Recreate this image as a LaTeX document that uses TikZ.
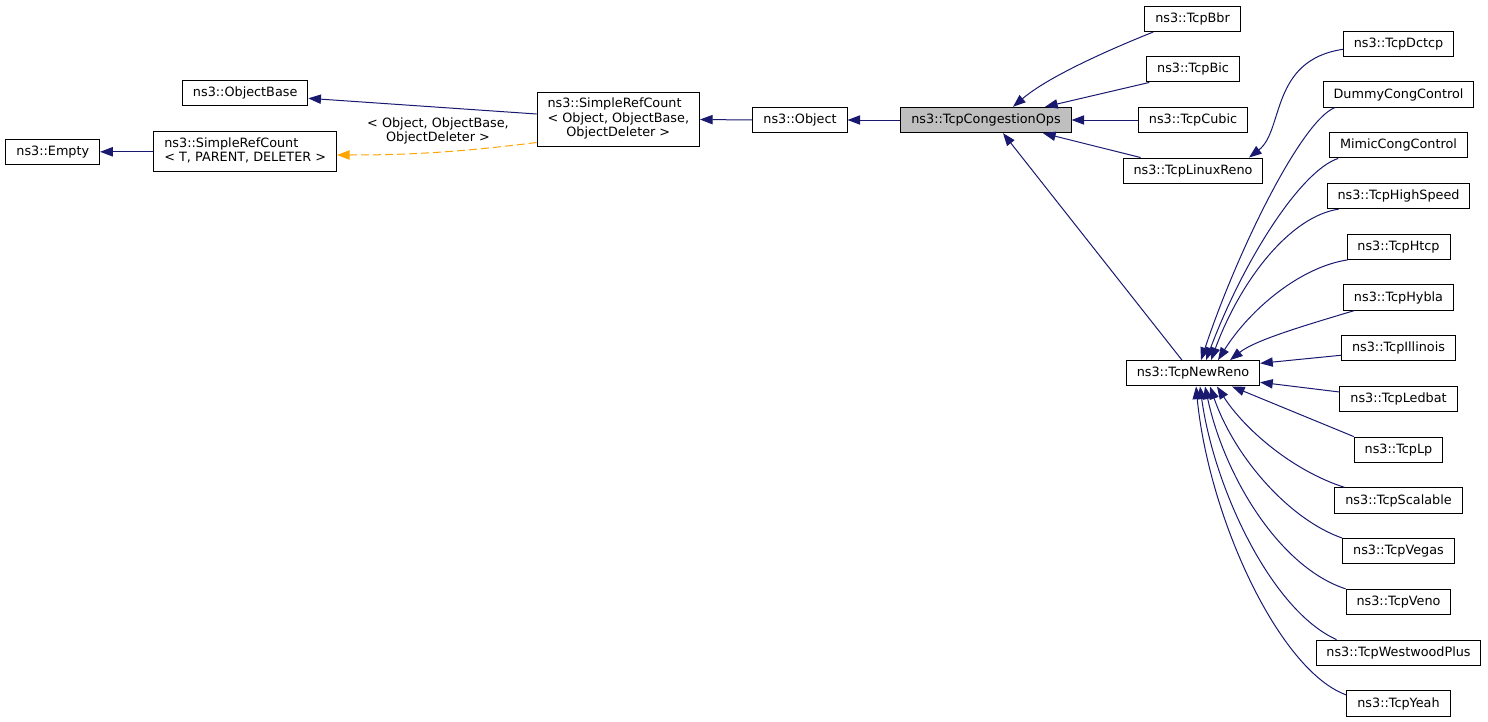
\documentclass[tikz,border=0pt]{standalone}
\usepackage{fontspec}
\setmainfont{DejaVu Sans}
\usetikzlibrary{arrows.meta,calc}
\definecolor{edgeblue}{RGB}{25,25,112}
\definecolor{edgeorange}{RGB}{255,165,0}
\definecolor{boxgray}{RGB}{191,191,191}

\begin{document}
\begin{tikzpicture}[x=0.75pt,y=-0.75pt,
  cls/.style={draw=black,line width=0.75pt,fill=white,inner xsep=7.8pt,inner ysep=4.1pt,
    minimum height=19pt,font=\fontsize{9.6}{10.9}\selectfont},
  inh/.style={draw=edgeblue,line width=0.75pt,-{Triangle[length=9.5pt,width=7pt]}},
  tmpl/.style={draw=edgeorange,line width=0.75pt,dash pattern=on 6pt off 3pt,
    -{Triangle[length=9.5pt,width=7pt]}}]
\useasboundingbox (0,0) rectangle (1488,721);

\node[cls] (empty) at (52.8,151.8) {ns3::Empty};
\node[cls] (refcountT) at (245.2,151.8)
  {\begin{tabular}{@{}l@{}}ns3::SimpleRefCount\\< T, PARENT, DELETER >\end{tabular}};
\node[cls] (objectbase) at (245.2,93.3) {ns3::ObjectBase};
\node[cls] (refcount) at (618.3,119.5)
  {\begin{tabular}{@{}l@{}}ns3::SimpleRefCount\\< Object, ObjectBase,\\
   \multicolumn{1}{@{}c@{}}{ObjectDeleter >}\end{tabular}};
\node[cls] (object) at (800,120) {ns3::Object};
\node[cls,fill=boxgray] (congops) at (986,120) {ns3::TcpCongestionOps};

\node[cls] (bbr) at (1192.5,18.8) {ns3::TcpBbr};
\node[cls] (bic) at (1193,69.3) {ns3::TcpBic};
\node[cls] (cubic) at (1193,120) {ns3::TcpCubic};
\node[cls] (linuxreno) at (1193,170.7) {ns3::TcpLinuxReno};
\node[cls] (newreno) at (1193,373.3) {ns3::TcpNewReno};

\node[cls] (dctcp) at (1398.5,43.8) {ns3::TcpDctcp};
\node[cls] (dummy) at (1398.5,94.5) {DummyCongControl};
\node[cls] (mimic) at (1398.5,145.3) {MimicCongControl};
\node[cls] (highspeed) at (1398.5,196) {ns3::TcpHighSpeed};
\node[cls] (htcp) at (1398.5,246.75) {ns3::TcpHtcp};
\node[cls] (hybla) at (1398.5,297.5) {ns3::TcpHybla};
\node[cls] (illinois) at (1398.5,348.25) {ns3::TcpIllinois};
\node[cls] (ledbat) at (1398.5,399) {ns3::TcpLedbat};
\node[cls] (lp) at (1398.5,449.75) {ns3::TcpLp};
\node[cls] (scalable) at (1398.5,500.5) {ns3::TcpScalable};
\node[cls] (vegas) at (1398.5,551.25) {ns3::TcpVegas};
\node[cls] (veno) at (1398.5,602) {ns3::TcpVeno};
\node[cls] (westwood) at (1398.5,652.75) {ns3::TcpWestwoodPlus};
\node[cls] (yeah) at (1398.5,703.5) {ns3::TcpYeah};

\node[font=\fontsize{9.6}{10.9}\selectfont,align=center,inner sep=0pt] (tmpllabel) at (438,131)
  {< Object, ObjectBase,\\ObjectDeleter >};

\draw[inh] (refcountT.west) -- (empty.east);
\draw[inh] ($(refcount.west)+(0,-5.5)$) -- ($(objectbase.east)+(0,5)$);
\draw[tmpl] ($(refcount.west)+(0,23)$) .. controls +(-80,10) and +(70,0) .. ($(refcountT.east)+(0,3.2)$);
\draw[inh] (object.west) -- (refcount.east);
\draw[inh] (congops.west) -- (object.east);

\draw[inh] ($(bbr.south west)+(9,0)$) .. controls +(-45,18) and +(35,-30) .. ($(congops.north)+(27,0)$);
\draw[inh] ($(bic.south west)+(3,0)$) -- ($(congops.north)+(59,0)$);
\draw[inh] (cubic.west) -- (congops.east);
\draw[inh] ($(linuxreno.north west)+(18,0)$) -- ($(congops.south)+(57,0)$);
\draw[inh] ($(newreno.north)+(-11,0)$) -- ($(congops.south)+(17,0)$);
\draw[inh] ($(dctcp.west)+(0,5.5)$) .. controls +(-73,11) and +(35,-27) .. ($(linuxreno.north)+(56,0)$);

\draw[inh] ($(dummy.south west)+(12,0)$) .. controls +(-33,13) and +(37,-111) .. ($(newreno.north)+(8,0)$);
\draw[inh] ($(mimic.south west)+(9,0)$) .. controls +(-37,12) and +(38,-101) .. ($(newreno.north)+(13,0)$);
\draw[inh] ($(highspeed.south west)+(12,0)$) .. controls +(-48,7) and +(30,-81) .. ($(newreno.north)+(18,0)$);
\draw[inh] ($(htcp.south west)+(1,0)$) .. controls +(-47,7) and +(32,-51) .. ($(newreno.north)+(25,0)$);
\draw[inh] ($(hybla.south west)+(11,0)$) .. controls +(-50,15) and +(25,-20) .. ($(newreno.north)+(37,0)$);
\draw[inh] ($(illinois.west)+(0,7)$) -- ($(newreno.east)+(0,-10)$);
\draw[inh] ($(ledbat.west)+(0,-7)$) -- ($(newreno.east)+(0,9)$);
\draw[inh] (lp.north west) -- ($(newreno.south)+(39,0)$);
\draw[inh] ($(scalable.north west)+(10,0)$) .. controls +(-53,-17) and +(27,42) .. ($(newreno.south)+(24,0)$);
\draw[inh] (vegas.north west) .. controls +(-52,-18) and +(25,72) .. ($(newreno.south)+(17,0)$);
\draw[inh] (veno.north west) .. controls +(-65,-21) and +(20,92) .. ($(newreno.south)+(12,0)$);
\draw[inh] ($(westwood.north west)+(21,0)$) .. controls +(-65,-29) and +(14,102) .. ($(newreno.south)+(7,0)$);
\draw[inh] ($(yeah.west)+(0,-8.5)$) .. controls +(-67,-24) and +(13,132) .. ($(newreno.south)+(3,0)$);
\end{tikzpicture}
\end{document}
